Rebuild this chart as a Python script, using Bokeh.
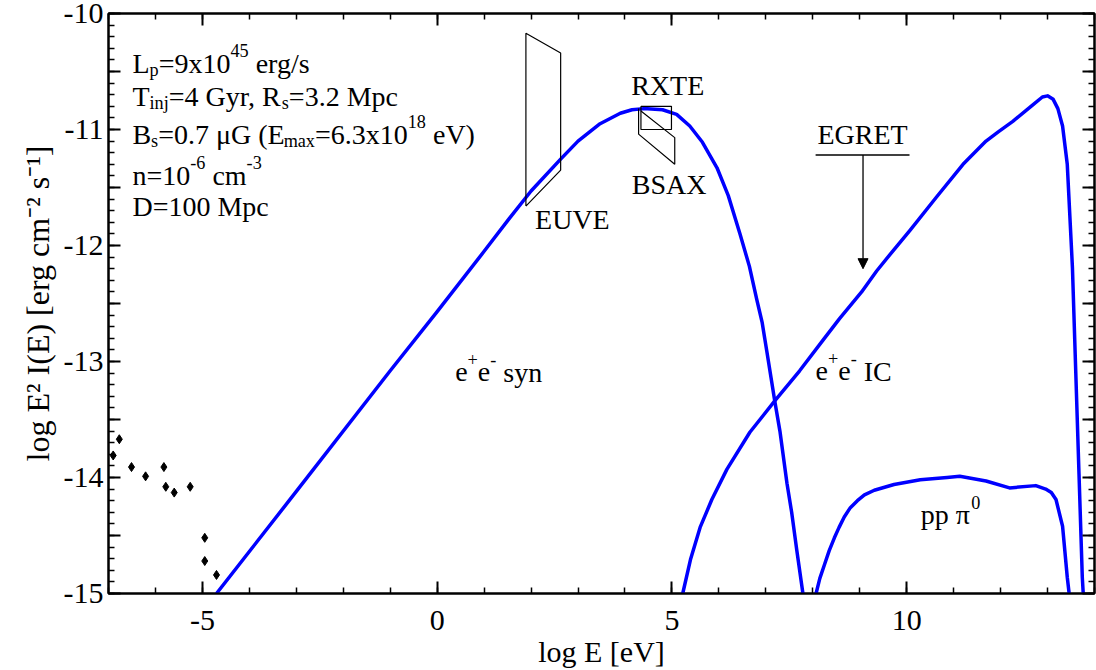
import math
from bokeh.plotting import figure
from bokeh.models import (Range1d, LinearAxis, FixedTicker, CustomJSTickFormatter,
                          Label, Arrow, NormalHead)
from bokeh.embed import file_html
from bokeh.resources import INLINE

# ---------------- data ----------------
syn_x = [-4.70, -3.0, -1.0, 0.0, 1.0, 1.53, 2.0, 2.62, 3.0, 3.47, 3.9, 4.15, 4.4, 4.8,
         5.1, 5.38, 5.65, 5.96, 6.2, 6.45, 6.65, 6.81, 6.92, 7.02, 7.19, 7.3, 7.45, 7.55,
         7.66, 7.79]
syn_y = [-15.0, -14.12, -13.08, -12.57, -12.05, -11.77, -11.53, -11.26, -11.10, -10.95,
         -10.86, -10.83, -10.82, -10.83, -10.87, -10.97, -11.11, -11.33, -11.57, -11.90,
         -12.18, -12.47, -12.66, -12.91, -13.34, -13.60, -14.05, -14.30, -14.63, -15.0]

ic_x = [5.23, 5.4, 5.6, 5.85, 6.17, 6.66, 7.19, 7.72, 8.21, 8.57, 9.04, 9.36, 9.7, 10.07,
        10.64, 11.20, 11.69, 11.95, 12.26, 12.68, 12.89, 13.0, 13.12, 13.22, 13.32, 13.42,
        13.53, 13.60, 13.67, 13.74, 13.76]
ic_y = [-15.0, -14.70, -14.43, -14.19, -13.93, -13.61, -13.34, -13.08, -12.82, -12.63,
        -12.40, -12.22, -12.05, -11.87, -11.58, -11.30, -11.10, -11.02, -10.93, -10.79,
        -10.72, -10.71, -10.74, -10.82, -10.97, -11.30, -12.19, -13.08, -13.97, -14.86, -15.0]

pp_x = [8.07, 8.15, 8.25, 8.35, 8.46, 8.56, 8.67, 8.8, 8.95, 9.1, 9.31, 9.73, 10.29,
        10.86, 11.13, 11.69, 12.19, 12.75, 12.96, 13.08, 13.18, 13.32, 13.42, 13.46]
pp_y = [-15.0, -14.87, -14.75, -14.63, -14.52, -14.43, -14.34, -14.26, -14.20, -14.15,
        -14.11, -14.06, -14.02, -14.0, -13.99, -14.03, -14.09, -14.07, -14.10, -14.13,
        -14.19, -14.42, -14.86, -15.0]

obs_x = [-6.77, -6.90, -6.51, -6.21, -5.82, -5.78, -5.60, -5.26, -4.95, -4.95, -4.70]
obs_y = [-13.67, -13.81, -13.91, -13.99, -13.91, -14.08, -14.13, -14.08, -14.52, -14.72, -14.84]

euve_x = [1.89, 1.89, 2.63, 2.63, 1.89]
euve_y = [-11.66, -10.17, -10.34, -11.35, -11.66]

rxte_x = [4.34, 4.99, 4.99, 4.34, 4.34]
rxte_y = [-10.80, -10.80, -11.0, -11.0, -10.80]

bsax_x = [4.29, 4.29, 5.06, 5.06, 4.34]
bsax_y = [-10.82, -11.04, -11.30, -11.07, -10.84]

egret_x = [8.06, 10.06]
egret_y = -11.22
egret_arrow_x = 9.07
egret_tip_y = -12.20

x_major = [-5, 0, 5, 10]
x_minor = list(range(-7, 15))
y_major = [-15, -14, -13, -12, -11, -10]

# ---------------- figure ----------------
X0, X1, Y0, Y1 = -7, 14, -15, -10
W, H = 1096, 670
BL, BR, BT, BB = 108, 2, 13, 77
FW, FH = W - BL - BR, H - BT - BB
XPU = FW / (X1 - X0)
YPU = FH / (Y1 - Y0)
FONT = "Liberation Serif"
FS = 28      # annotation text
AFS = 30     # axis text
LIFT = 9     # px: correction of the rendered text baseline

p = figure(width=W, height=H, x_range=Range1d(X0, X1), y_range=Range1d(Y0, Y1),
           output_backend="svg", toolbar_location=None,
           min_border_left=BL, min_border_right=BR, min_border_top=BT, min_border_bottom=BB)
p.grid.visible = False
p.outline_line_color = "black"
p.outline_line_width = 2
p.background_fill_color = "white"
p.border_fill_color = "white"

y_half = [Y0 + 0.5 * i for i in range(11)]
y_minor = [round(Y0 + 0.1 * i, 1) for i in range(51)]
xt = FixedTicker(ticks=x_major, minor_ticks=x_minor)
yt = FixedTicker(ticks=y_half, minor_ticks=y_minor)
int_fmt = "return Number.isInteger(tick) ? tick.toFixed(0) : '';"


def style(ax, show):
    ax.axis_line_width = 2
    ax.axis_line_color = "black"
    ax.major_tick_in = 12
    ax.major_tick_out = 0
    ax.minor_tick_in = 6
    ax.minor_tick_out = 0
    ax.major_tick_line_width = 2
    ax.minor_tick_line_width = 1.5
    ax.major_tick_line_color = "black"
    ax.minor_tick_line_color = "black"
    ax.major_label_text_font = FONT
    ax.major_label_text_color = "black"
    ax.major_label_text_font_size = f"{AFS}px"
    ax.axis_label_text_font = FONT
    ax.axis_label_text_font_size = f"{AFS}px"
    ax.axis_label_text_font_style = "normal"
    ax.axis_label_text_color = "black"
    if show:
        ax.formatter = CustomJSTickFormatter(code=int_fmt)
    else:
        ax.formatter = CustomJSTickFormatter(code="return '';")
        ax.major_label_standoff = 0


xa = p.xaxis[0]
xa.ticker = xt
style(xa, True)
xa.major_label_standoff = 17
xa.axis_label = "log E [eV]"
xa.axis_label_standoff = 2

ya = p.yaxis[0]
ya.ticker = yt
style(ya, True)
ya.major_label_standoff = 5
ya.axis_label = "log E\u00b2 I(E) [erg cm\u207b\u00b2 s\u207b\u00b9]"
ya.axis_label_text_font_size = "32px"
ya.axis_label_standoff = 5

top = LinearAxis(ticker=xt)
style(top, False)
p.add_layout(top, "above")
right = LinearAxis(ticker=yt)
style(right, False)
p.add_layout(right, "right")

# ---------------- marks ----------------
BLUE = "#0000ff"
p.line(syn_x, syn_y, line_color=BLUE, line_width=3.5, line_join="round")
p.line(ic_x, ic_y, line_color=BLUE, line_width=3.5, line_join="round")
p.line(pp_x, pp_y, line_color=BLUE, line_width=3.5, line_join="round")
p.scatter(obs_x, obs_y, marker="diamond", size=9, color="black")

p.line(euve_x, euve_y, line_color="black", line_width=1.2)
p.line(rxte_x, rxte_y, line_color="black", line_width=1.2)
p.line(bsax_x, bsax_y, line_color="black", line_width=1.2)
p.line(egret_x, [egret_y, egret_y], line_color="black", line_width=1.5)
p.add_layout(Arrow(end=NormalHead(size=10, fill_color="black", line_color="black"),
                   x_start=egret_arrow_x, y_start=egret_y,
                   x_end=egret_arrow_x, y_end=egret_tip_y,
                   line_color="black", line_width=1.3))

# ---------------- text ----------------
WID = {' ': .25, '!': .333, '(': .333, ')': .333, '+': .564, ',': .25, '-': .333, '.': .25,
       '/': .278, '=': .564, '[': .333, ']': .333, 'A': .722, 'B': .667, 'C': .667,
       'D': .722, 'E': .611, 'G': .722, 'I': .333, 'L': .611, 'M': .889, 'R': .667,
       'S': .556, 'T': .611, 'U': .722, 'V': .722, 'X': .722, 'a': .444, 'c': .444,
       'e': .444, 'g': .5, 'i': .278, 'j': .278, 'l': .278, 'm': .778, 'n': .5, 'o': .5,
       'p': .5, 'r': .333, 's': .389, 'x': .5, 'y': .5, '\u03bc': .5, '\u03c0': .55}


def tw(s):
    return sum(WID.get(c, .5) for c in s)


def rich(x, y, parts, fs=FS):
    adv = 0.0
    for txt, kind in parts:
        f = fs if kind == "n" else fs * 0.65
        rise = 0.0 if kind == "n" else (0.45 * fs if kind == "sup" else -0.22 * fs)
        lead = len(txt) - len(txt.lstrip(" "))
        adv += tw(" " * lead) * f
        body = txt.lstrip(" ")
        p.add_layout(Label(x=x + adv / XPU, y=y + (rise + LIFT) / YPU, text=body,
                           text_font=FONT, text_color="black", text_font_size=f"{f:.1f}px",
                           text_baseline="alphabetic", text_align="left"))
        adv += tw(body) * f
    return adv


def plain(x, y, txt, align="center"):
    p.add_layout(Label(x=x, y=y + LIFT / YPU, text=txt, text_font=FONT, text_color="black",
                       text_font_size=f"{FS}px", text_baseline="alphabetic",
                       text_align=align))


n, sub, sup = "n", "sub", "sup"
bx = -6.49
rich(bx, -10.509, [("L", n), ("p", sub), ("=9x10", n), ("45", sup), (" erg/s", n)])
rich(bx, -10.795, [("T", n), ("inj", sub), ("=4 Gyr, R", n), ("s", sub), ("=3.2 Mpc", n)])
rich(bx, -11.121, [("B", n), ("s", sub), ("=0.7 \u03bcG (E", n), ("max", sub),
                   ("=6.3x10", n), ("18", sup), (" eV)", n)])
rich(bx, -11.47, [("n=10", n), ("-6", sup), (" cm", n), ("-3", sup)])
rich(bx, -11.74, [("D=100 Mpc", n)])

rich(0.383, -13.17, [("e", n), ("+", sup), ("e", n), ("-", sup), (" syn", n)])
rich(8.06, -13.16, [("e", n), ("+", sup), ("e", n), ("-", sup), (" IC", n)])
rich(10.30, -14.40, [("pp \u03c0", n), ("0", sup)])

plain(2.085, -11.853, "EUVE", align="left")
plain(4.91, -10.70, "RXTE")
plain(4.94, -11.55, "BSAX")
plain(9.06, -11.12, "EGRET")

open("out.html", "w").write(file_html(p, INLINE))
